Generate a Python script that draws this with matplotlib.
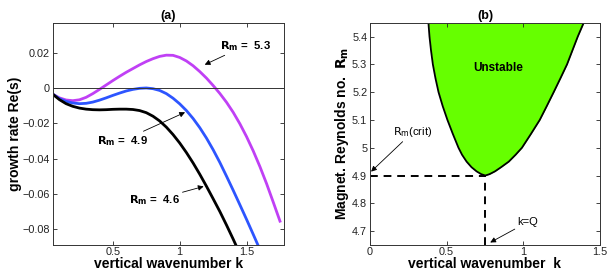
import matplotlib
matplotlib.use("Agg")
import matplotlib.pyplot as plt

plt.rcParams['font.family'] = ['Liberation Sans', 'DejaVu Sans']

# ---- Panel (a) data: growth rate Re(s) vs vertical wavenumber k ----
k_53 = [0.05, 0.10, 0.15, 0.20, 0.25, 0.30, 0.35, 0.40, 0.45, 0.50, 0.55, 0.60, 0.65,
        0.70, 0.75, 0.80, 0.85, 0.90, 0.95, 1.00, 1.05, 1.10, 1.15, 1.20, 1.25, 1.30,
        1.35, 1.40, 1.45, 1.50, 1.55, 1.60, 1.65, 1.70, 1.75]
s_53 = [-0.0035, -0.0056, -0.0068, -0.0072, -0.0067, -0.0053, -0.0032, -0.0008, 0.0017,
        0.0042, 0.0066, 0.0089, 0.0110, 0.0131, 0.0150, 0.0166, 0.0179, 0.0186, 0.0185,
        0.0173, 0.0153, 0.0126, 0.0093, 0.0056, 0.0014, -0.0031, -0.0081, -0.0138,
        -0.0203, -0.0276, -0.0357, -0.0446, -0.0543, -0.0648, -0.0755]

k_49 = [0.05, 0.10, 0.15, 0.20, 0.25, 0.30, 0.35, 0.40, 0.45, 0.50, 0.55, 0.60, 0.65,
        0.70, 0.75, 0.80, 0.85, 0.90, 0.95, 1.00, 1.05, 1.10, 1.15, 1.20, 1.25, 1.30,
        1.35, 1.40, 1.45, 1.50, 1.55, 1.60]
s_49 = [-0.0035, -0.0060, -0.0076, -0.0085, -0.0089, -0.0087, -0.0080, -0.0069, -0.0056,
        -0.0042, -0.0029, -0.0017, -0.0008, -0.0002, 0.0000, -0.0004, -0.0014, -0.0032,
        -0.0058, -0.0090, -0.0128, -0.0173, -0.0225, -0.0284, -0.0350, -0.0422, -0.0500,
        -0.0580, -0.0662, -0.0745, -0.0830, -0.0916]

k_46 = [0.05, 0.10, 0.15, 0.20, 0.25, 0.30, 0.35, 0.40, 0.45, 0.50, 0.55, 0.60, 0.65,
        0.70, 0.75, 0.80, 0.85, 0.90, 0.95, 1.00, 1.05, 1.10, 1.15, 1.20, 1.25, 1.30,
        1.35, 1.40, 1.45]
s_46 = [-0.0035, -0.0066, -0.0089, -0.0104, -0.0114, -0.0120, -0.0123, -0.0124, -0.0123,
        -0.0121, -0.0120, -0.0120, -0.0122, -0.0128, -0.0140, -0.0160, -0.0187, -0.0222,
        -0.0264, -0.0312, -0.0366, -0.0425, -0.0489, -0.0557, -0.0628, -0.0700, -0.0777,
        -0.0857, -0.0940]

# ---- Panel (b) data: neutral stability curve R_m(k) ----
k_neutral = [0.381, 0.388, 0.398, 0.410, 0.427, 0.447, 0.474, 0.505, 0.540, 0.577, 0.600,
             0.630, 0.662, 0.695, 0.725, 0.752, 0.780, 0.815, 0.855, 0.905, 0.950, 0.991,
             1.050, 1.107, 1.153, 1.198, 1.242, 1.285, 1.320, 1.355, 1.394]
R_neutral = [5.45, 5.40, 5.35, 5.30, 5.25, 5.20, 5.15, 5.10, 5.05, 5.00, 4.975,
             4.95, 4.93, 4.915, 4.905, 4.90, 4.905, 4.915, 4.93, 4.95, 4.975, 5.00,
             5.05, 5.10, 5.15, 5.20, 5.25, 5.30, 5.35, 5.40, 5.45]
k_crit = 0.75
R_crit = 4.9

W, H = 614, 273
fig = plt.figure(figsize=(W / 100, H / 100), dpi=100)

def setup(ax):
    ax.tick_params(direction='in', top=True, right=True, length=3, width=0.6,
                   labelsize=7.8, pad=2, colors='#222222')
    ax.tick_params(axis='x', pad=1.5)
    for sp in ax.spines.values():
        sp.set_linewidth(0.7)
        sp.set_color('#333333')

# Panel (a)
ax1 = fig.add_axes([52.7 / W, 1 - 245 / H, 231.3 / W, 222.3 / H])
ax1.plot(k_53, s_53, color='#c040f5', lw=2.0)
ax1.plot(k_49, s_49, color='#2d55ff', lw=2.0)
ax1.plot(k_46, s_46, color='black', lw=2.0)
ax1.axhline(0, color='#333333', lw=0.7)
ax1.set_xlim(0.05, 1.78)
ax1.set_ylim(-0.089, 0.037)
ax1.set_xticks([0.5, 1, 1.5])
ax1.set_xticklabels(['0.5', '1', '1.5'])
ax1.set_yticks([-0.08, -0.06, -0.04, -0.02, 0, 0.02])
ax1.set_yticklabels(['\u22120.08', '\u22120.06', '\u22120.04', '\u22120.02', '0', '0.02'])
setup(ax1)
ax1.set_xlabel('vertical wavenumber k', fontsize=10, fontweight='bold', labelpad=0)
ax1.set_ylabel('growth rate Re(s)', fontsize=10, fontweight='bold', labelpad=0)
ax1.set_title('(a)', fontsize=9, fontweight='bold', pad=3)

arrow = dict(arrowstyle='-|>', color='black', lw=0.6, mutation_scale=8, shrinkA=0, shrinkB=0)
ax1.annotate(r'$\mathbf{R_m}$ =  5.3', xy=(1.187, 0.0132), xytext=(1.30, 0.0240),
             fontsize=8.2, fontweight='bold', ha='left', va='center', arrowprops=arrow)
ax1.annotate(r'$\mathbf{R_m}$ =  4.9', xy=(1.04, -0.0138), xytext=(0.76, -0.0300),
             fontsize=8.2, fontweight='bold', ha='right', va='center', arrowprops=arrow)
ax1.annotate(r'$\mathbf{R_m}$ =  4.6', xy=(1.179, -0.0558), xytext=(1.0, -0.0635),
             fontsize=8.2, fontweight='bold', ha='right', va='center', arrowprops=arrow)

# Panel (b)
ax2 = fig.add_axes([370 / W, 1 - 245 / H, 230 / W, 222.3 / H])
ax2.fill_between(k_neutral, R_neutral, 5.45, color='#66ff00', lw=0)
ax2.plot(k_neutral, R_neutral, color='black', lw=1.3)
ax2.plot([0, k_crit], [R_crit, R_crit], color='black', lw=1.4, ls=(0, (4, 3)))
ax2.plot([k_crit, k_crit], [4.65, R_crit], color='black', lw=1.4, ls=(0, (4, 3)))
ax2.set_xlim(0, 1.5)
ax2.set_ylim(4.65, 5.45)
ax2.set_xticks([0, 0.5, 1, 1.5])
ax2.set_xticklabels(['0', '0.5', '1', '1.5'])
ax2.set_yticks([4.7, 4.8, 4.9, 5.0, 5.1, 5.2, 5.3, 5.4])
ax2.set_yticklabels(['4.7', '4.8', '4.9', '5', '5.1', '5.2', '5.3', '5.4'])
setup(ax2)
ax2.set_xlabel('vertical wavenumber  k', fontsize=10, fontweight='bold', labelpad=0)
ax2.set_ylabel(r'Magnet. Reynolds no.  $\mathbf{R_m}$', fontsize=10, fontweight='bold', labelpad=1)
ax2.set_title('(b)', fontsize=9, fontweight='bold', pad=3)
ax2.text(0.835, 5.286, 'Unstable', fontsize=8.5, fontweight='bold', ha='center', va='center')
ax2.annotate(r'$\mathrm{R_m}$(crit)', xy=(0.007, 4.914), xytext=(0.28, 5.057),
             fontsize=8, ha='center', va='center', arrowprops=arrow)
ax2.annotate('k=Q', xy=(0.784, 4.659), xytext=(1.03, 4.733),
             fontsize=8, ha='center', va='center', arrowprops=arrow)

fig.savefig('out.png', dpi=100)
